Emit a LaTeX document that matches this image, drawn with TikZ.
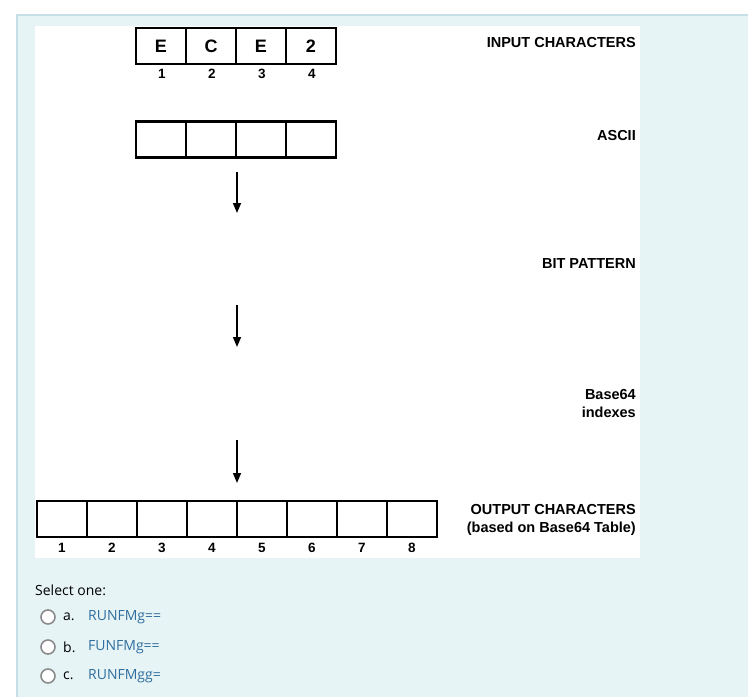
\documentclass[tikz,border=0pt]{standalone}
\usepackage{fontspec}
\setmainfont{Liberation Sans}
\newfontfamily\quizfont{Open Sans}
\usetikzlibrary{positioning}
\usetikzlibrary{arrows.meta}
\definecolor{panelblue}{HTML}{E7F4F6}
\definecolor{panelline}{HTML}{C5E1E7}
\definecolor{answerblue}{HTML}{2F6E9E}
\tikzset{cellbox/.style = {draw, line width=2.4pt, minimum width=50pt,
                           minimum height=36pt, inner sep=0, outer sep=0,
                           font=\bfseries\fontsize{18}{18}\selectfont}}
\tikzset{idx/.style = {inner sep=0, font=\bfseries\fontsize{13.5}{13.5}\selectfont}}
\tikzset{tag/.style = {anchor=east, align=right, inner sep=0,
                       font=\bfseries\fontsize{14.5}{17.5}\selectfont}}
\tikzset{down/.style = {line width=1.5pt, -{Triangle[width=8pt,length=10pt]}}}
\tikzset{radio/.style = {draw=gray!90, line width=1.6pt, circle, fill=white,
                         minimum size=14pt, inner sep=0}}
\tikzset{quiz/.style = {anchor=west, inner sep=0,
                        font=\quizfont\fontsize{14}{15}\selectfont}}

\begin{document}
\begin{tikzpicture}[x=1pt, y=-1pt]
      \useasboundingbox (0,0) rectangle (748,697);
      % Panel and picture area
      \fill[panelblue] (17,15) rectangle (748,697);
      \draw[panelline, line width=1.2pt] (17,697) -- (17,15) -- (748,15);
      \fill[white] (35,26) rectangle (640,558);

      % Input characters
      \foreach \c [count=\i] in {E,C,E,2} {
        \node[cellbox] (in\i) at (111+50*\i, 46) {\c};
        \node[idx] (inno\i) at (112+50*\i, 74) {\i};
      }
      % ASCII row
      \foreach \i in {1,...,4}
        \node[cellbox] (asc\i) at (111+50*\i, 139.5) {};

      % Arrows between the steps
      \coordinate (arA) at (237,172);  \coordinate (arAend) at (237,213);
      \coordinate (arB) at (237,305);  \coordinate (arBend) at (237,347);
      \coordinate (arC) at (237,440);  \coordinate (arCend) at (237,483);
      \draw[down] (arA) -- (arAend);
      \draw[down] (arB) -- (arBend);
      \draw[down] (arC) -- (arCend);

      % Output characters
      \foreach \i in {1,...,8} {
        \node[cellbox] (out\i) at (12+50*\i, 519) {};
        \node[idx] (outno\i) at (12+50*\i, 548) {\i};
      }

      % Step names
      \node[tag] (tagin) at (636,43) {INPUT CHARACTERS};
      \node[tag] (tagasc) at (636,136) {ASCII};
      \node[tag] (tagbit) at (636,264) {BIT PATTERN};
      \node[tag] (tagidx) at (636,403.5) {Base64\\indexes};
      \node[tag] (tagout) at (636,520) {OUTPUT CHARACTERS\\(based on Base64 Table)};

      % Answers
      \node[quiz] (sel) at (35,590) {Select one:};
      \foreach \l/\a/\y in {a./RUNFMg==/617, b./FUNFMg==/647, c./RUNFMgg=/676} {
        \node[radio] (rad\l) at (48,\y) {};
        \node[quiz] (let\l) at (63,\y) {\l};
        \node[quiz, text=answerblue] (ans\l) at (88,\y) {\a};
      }
    \end{tikzpicture}
\end{document}
